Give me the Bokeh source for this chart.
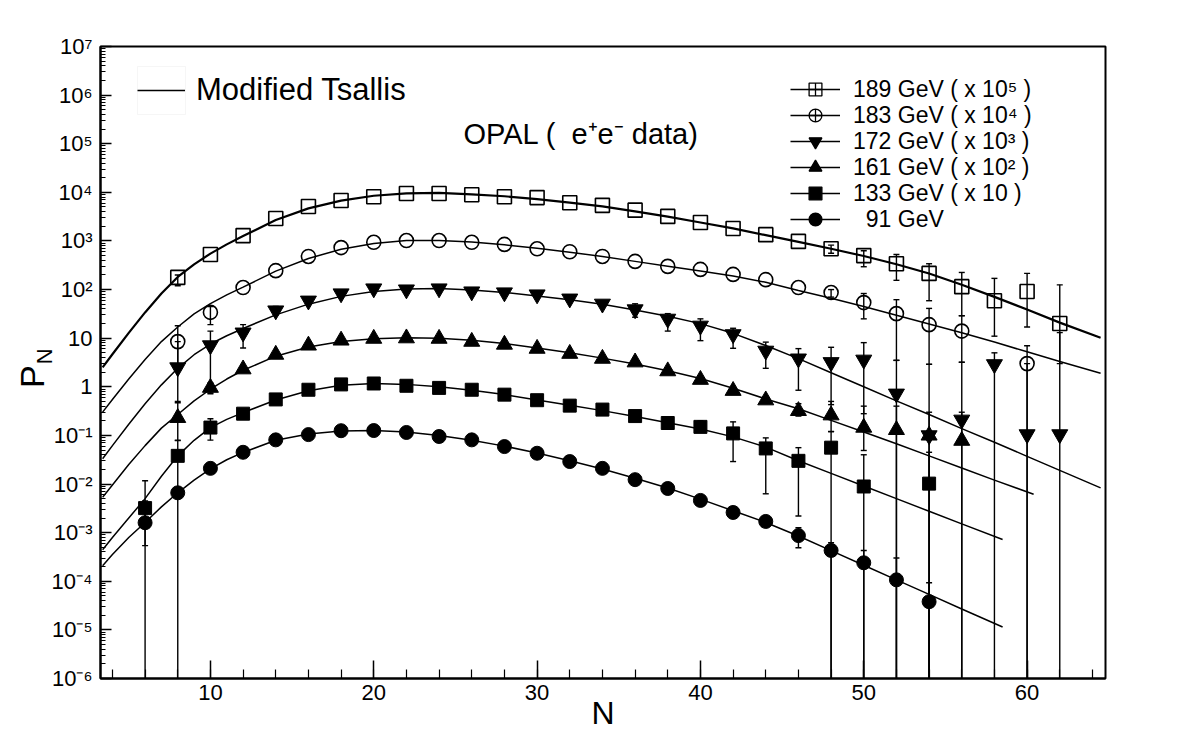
import numpy as np
from bokeh.plotting import figure
from bokeh.models import (Range1d, FixedTicker, CustomJSTickFormatter, Label,
                          Legend, LegendItem, LinearAxis, BoxAnnotation)
from bokeh.embed import file_html
from bokeh.resources import INLINE

FONT = "Liberation Sans"
BOTTOM = 1e-7  # error bar running off the bottom of the axis
NAN = float("nan")

# ---------------- data points (plotted values, already scaled) ----------------
N189 = list(range(8, 63, 2))
P189 = [178, 525, 1290, 2900, 5100, 6800, 8100, 9500, 9500, 8900, 8100, 7800, 6100, 5400,
        4300, 3200, 2400, 1800, 1350, 980, 690, 500, 340, 215, 115, 59, 91, 20]
E189_N = [8, 48, 50, 52, 54, 56, 58, 60, 62]
E189_lo = [120, 560, 295, 155, 59, 29, 11, 17, 3.0]
E189_hi = [200, 820, 630, 525, 340, 225, 170, 215, 125]

N183 = list(range(8, 57, 2)) + [60]
P183 = [8.5, 34, 110, 245, 480, 730, 940, 1020, 1020, 940, 850, 690, 600, 480, 380, 300,
        260, 205, 160, 110, 87, 54, 32, 19, 14, 3.0]
E183_N = [8, 10, 48, 50, 52, 54, 56, 60]
E183_lo = [2.5, 19, 70, 25, 3.5, 2.9, 3.2, BOTTOM]
E183_hi = [18, 45, 100, 83, 62, 41, 29, 7]

N172 = list(range(8, 63, 2))
P172 = [2.5, 7.1, 13, 37, 59, 83, 105, 100, 105, 91, 87, 79, 65, 51, 39, 25, 18, 12, 5.5,
        3.8, 3.2, 3.6, 0.72, 0.10, 0.21, 2.9, 0.105, 0.105]
E172_N = [8, 10, 12, 14, 36, 38, 40, 42, 44, 46, 48, 50, 52, 54, 56, 58, 60, 62]
E172_lo = [0.5, 0.72, 6.3, 30, 27, 14, 8.9, 6.2, 2.4, 0.85, 0.43, 0.28,
           BOTTOM, BOTTOM, BOTTOM, BOTTOM, BOTTOM, BOTTOM]
E172_hi = [8.5, 14, 19, 45, 51, 32, 25, 16, 8.3, 6.1, 6.5, 8.1, 3.5, 2.9, 3.2, 5.0, 3.0, 13]

N161 = list(range(8, 57, 2))
P161 = [0.23, 0.96, 2.3, 4.6, 7.1, 9.0, 9.8, 10.0, 9.8, 8.5, 7.4, 6.1, 4.8, 3.8, 3.2, 2.1,
        1.4, 0.83, 0.53, 0.32, 0.26, 0.145, 0.13, 0.10, 0.078]
E161_N = [8, 10, 46, 48, 50, 52, 54, 56]
E161_lo = [0.08, 0.75, 0.25, 0.12, 0.049, BOTTOM, BOTTOM, BOTTOM]
E161_hi = [0.47, 1.2, 0.45, 0.50, 0.40, 0.40, 0.30, 0.30]

N133 = list(range(6, 51, 2)) + [54]
P133 = [3.2e-3, 0.038, 0.145, 0.28, 0.55, 0.87, 1.12, 1.17, 1.05, 0.95, 0.87, 0.69, 0.53,
        0.41, 0.34, 0.25, 0.18, 0.15, 0.11, 0.054, 0.030, 0.056, 0.0089, 0.0102]
E133_N = [6, 8, 10, 38, 40, 42, 44, 46, 48, 50, 54]
E133_lo = [BOTTOM, BOTTOM, 0.08, 0.15, 0.12, 0.029, 0.0063, 0.0022, BOTTOM, BOTTOM, BOTTOM]
E133_hi = [0.0117, 0.078, 0.22, 0.21, 0.20, 0.19, 0.089, 0.056, 0.12, 0.04, 0.045]

N91 = list(range(6, 55, 2))
P91 = [1.6e-3, 6.6e-3, 0.021, 0.045, 0.081, 0.104, 0.125, 0.126, 0.115, 0.095, 0.081, 0.059,
       0.043, 0.029, 0.021, 0.0123, 0.0081, 0.0046, 0.0026, 0.0017, 8.7e-4, 4.3e-4, 2.4e-4,
       1.07e-4, 3.8e-5]
E91_N = [6, 8, 44, 46, 48, 50, 52, 54]
E91_lo = [5.4e-4, 5.6e-3, 1.5e-3, 4.9e-4, BOTTOM, BOTTOM, BOTTOM, BOTTOM]
E91_hi = [4.5e-3, 7.6e-3, 2.0e-3, 1.26e-3, 6.2e-4, 4.3e-4, 3.0e-4, 9.3e-5]

CN_A = [3.4, 4, 5, 6, 7, 8, 9, 10, 11, 12] + list(range(14, 63, 2)) + [64.5]
FIT189 = [0.40, 0.67, 1.11, 1.53, 1.92, 2.26, 2.52, 2.74, 2.93, 3.10, 3.43, 3.67, 3.83, 3.93,
          3.98, 3.99, 3.96, 3.92, 3.86, 3.79, 3.71, 3.61, 3.50, 3.38, 3.26, 3.12, 2.98, 2.84,
          2.69, 2.52, 2.33, 2.10, 1.85, 1.59, 1.32, 1.01]
FIT183 = [-0.52, -0.26, 0.16, 0.56, 0.93, 1.23, 1.50, 1.71, 1.89, 2.05, 2.38, 2.64, 2.83, 2.95,
          3.01, 3.01, 2.98, 2.92, 2.85, 2.77, 2.68, 2.58, 2.48, 2.38, 2.28, 2.15, 1.98, 1.82,
          1.65, 1.47, 1.29, 1.11, 0.92, 0.72, 0.52, 0.28]
FIT172 = [-1.48, -1.21, -0.77, -0.35, 0.04, 0.38, 0.66, 0.88, 1.05, 1.20, 1.48, 1.70, 1.86,
          1.96, 2.01, 2.02, 1.99, 1.94, 1.87, 1.79, 1.70, 1.58, 1.45, 1.30, 1.10, 0.85, 0.58,
          0.29, 0.00, -0.29, -0.57, -0.86, -1.14, -1.43, -1.72, -2.08]
CN_B = [3.4, 4, 5, 6, 7, 8, 9, 10, 11, 12] + list(range(14, 59, 2)) + [60.4]
FIT161 = [-2.27, -2.02, -1.60, -1.21, -0.85, -0.57, -0.29, -0.05, 0.16, 0.34, 0.63, 0.82, 0.93,
          0.99, 1.01, 1.00, 0.96, 0.89, 0.80, 0.70, 0.59, 0.47, 0.33, 0.17, -0.03, -0.25,
          -0.45, -0.69, -0.93, -1.17, -1.42, -1.67, -1.92, -2.21]
CN_C = [3.4, 4, 5, 6, 7, 8, 9, 10, 11, 12] + list(range(14, 57, 2)) + [58.5]
FIT133 = [-3.35, -3.10, -2.70, -2.30, -1.84, -1.42, -1.10, -0.84, -0.67, -0.53, -0.27, -0.08,
          0.03, 0.07, 0.05, 0.00, -0.07, -0.16, -0.27, -0.38, -0.49, -0.61, -0.74, -0.87,
          -1.03, -1.24, -1.52, -1.78, -2.04, -2.30, -2.56, -2.82, -3.14]
FIT91 = [-3.68, -3.45, -3.10, -2.79, -2.47, -2.18, -1.92, -1.69, -1.50, -1.35, -1.10, -0.97,
         -0.91, -0.90, -0.93, -1.00, -1.10, -1.22, -1.36, -1.52, -1.69, -1.88, -2.08, -2.31,
         -2.55, -2.79, -3.07, -3.37, -3.67, -3.97, -4.27, -4.57, -4.94]

LABELS = ["189 GeV ( x 10\u2075 )", "183 GeV ( x 10\u2074 )", "172 GeV ( x 10\u00b3 )",
          "161 GeV ( x 10\u00b2 )", "133 GeV ( x 10 )", "\u00a0\u00a091 GeV"]

series = [
    dict(N=N189, P=P189, eN=E189_N, lo=E189_lo, hi=E189_hi, cN=CN_A, fit=FIT189,
         marker="square", filled=False, size=14, lw_fit=2.2, lmarker="square_cross"),
    dict(N=N183, P=P183, eN=E183_N, lo=E183_lo, hi=E183_hi, cN=CN_A, fit=FIT183,
         marker="circle", filled=False, size=14, lw_fit=1.5, lmarker="circle_cross"),
    dict(N=N172, P=P172, eN=E172_N, lo=E172_lo, hi=E172_hi, cN=CN_A, fit=FIT172,
         marker="inverted_triangle", filled=True, size=16, lw_fit=1.5, lmarker="inverted_triangle"),
    dict(N=N161, P=P161, eN=E161_N, lo=E161_lo, hi=E161_hi, cN=CN_B, fit=FIT161,
         marker="triangle", filled=True, size=16, lw_fit=1.5, lmarker="triangle"),
    dict(N=N133, P=P133, eN=E133_N, lo=E133_lo, hi=E133_hi, cN=CN_C, fit=FIT133,
         marker="square", filled=True, size=13, lw_fit=1.5, lmarker="square"),
    dict(N=N91, P=P91, eN=E91_N, lo=E91_lo, hi=E91_hi, cN=CN_C, fit=FIT91,
         marker="circle", filled=True, size=14, lw_fit=1.5, lmarker="circle"),
]

FRAME_H = 632               # frame height in px (46..678)
FRAME_TOP = 46
LEGEND_ROWS_Y = [89, 115, 141, 167, 193, 219]   # legend row centres, px from top of canvas
ROW_H = 32

p = figure(width=1182, height=738, x_range=Range1d(3.27, 64.8), y_range=Range1d(1e-6, 1e7),
           y_axis_type="log", output_backend="svg", toolbar_location=None,
           min_border_left=100, min_border_right=77, min_border_top=46, min_border_bottom=60)
p.background_fill_color = "white"
p.border_fill_color = "white"
p.xgrid.visible = False
p.ygrid.visible = False
p.outline_line_color = "black"
p.outline_line_width = 2

# axes
p.xaxis.ticker = FixedTicker(ticks=[10, 20, 30, 40, 50, 60], minor_ticks=list(range(4, 65, 2)))
p.yaxis.ticker = FixedTicker(ticks=[10.0 ** e for e in range(-6, 8)],
                             minor_ticks=[k * 10.0 ** e for e in range(-6, 7) for k in range(2, 10)])
p.yaxis.formatter = CustomJSTickFormatter(code="""
const e = Math.round(Math.log10(tick));
if (e === 0) return "1";
if (e === 1) return "10";
const m = {"-":"\u207b","0":"\u2070","1":"\u00b9","2":"\u00b2","3":"\u00b3","4":"\u2074",
           "5":"\u2075","6":"\u2076","7":"\u2077","8":"\u2078","9":"\u2079"};
let s = "";
for (const c of String(e)) s += m[c];
return "10" + s;
""")
for ax in (p.xaxis, p.yaxis):
    ax.axis_line_width = 2
    ax.axis_line_color = "black"
    ax.major_tick_out = 0
    ax.minor_tick_out = 0
    ax.major_tick_line_width = 1.5
    ax.minor_tick_line_width = 1.2
    ax.major_tick_line_color = "black"
    ax.minor_tick_line_color = "black"
    ax.major_label_text_font = FONT
    ax.major_label_text_font_size = "22px"
    ax.major_label_text_color = "black"
p.xaxis.major_tick_in = 18
p.xaxis.minor_tick_in = 9
p.xaxis.major_label_standoff = 6
p.yaxis.major_tick_in = 11
p.yaxis.minor_tick_in = 5
p.yaxis.major_label_standoff = 8

# x axis title
p.xaxis.axis_label = "N"
p.xaxis.axis_label_text_font = FONT
p.xaxis.axis_label_text_font_size = "32px"
p.xaxis.axis_label_text_font_style = "normal"
p.xaxis.axis_label_text_color = "black"
p.xaxis.axis_label_standoff = -8

# y axis title "P" with subscript "N": two label-only axes stacked on the left
def title_axis(text, size, standoff):
    return LinearAxis(ticker=FixedTicker(ticks=[]), axis_label=text, axis_line_alpha=0,
                      major_tick_in=0, major_tick_out=0, minor_tick_in=0, minor_tick_out=0,
                      major_label_standoff=0, axis_label_standoff=standoff,
                      axis_label_text_font=FONT, axis_label_text_font_size=size,
                      axis_label_text_font_style="normal", axis_label_text_color="black")

p.add_layout(title_axis("\u00a0\u00a0N", "22px", -8), "left")
p.add_layout(title_axis("P\u00a0\u00a0\u00a0", "34px", -22), "left")

for s, lab, ry in zip(series, LABELS, LEGEND_ROWS_Y):
    clog = np.asarray(s["fit"])
    p.line(s["cN"], np.power(10.0, clog), line_color="black", line_width=s["lw_fit"])
    p.segment(x0=s["eN"], y0=s["lo"], x1=s["eN"], y1=s["hi"], line_color="black", line_width=1.4)
    p.scatter(s["eN"], s["hi"], marker="dash", size=6, line_color="black", line_width=1.4)
    p.scatter(s["eN"], s["lo"], marker="dash", size=6, line_color="black", line_width=1.4)
    fill = "black" if s["filled"] else None
    p.scatter(s["N"], s["P"], marker=s["marker"], size=s["size"], line_color="black",
              line_width=1.6 if not s["filled"] else 1.0,
              fill_color=fill, fill_alpha=1.0 if s["filled"] else 0.0)
    # legend sample (line + marker); renderers hold a single NaN point (never drawn)
    rl = p.line([NAN], [NAN], line_color="black", line_width=1.5)
    rm = p.scatter([NAN], [NAN], marker=s["lmarker"], line_color="black", line_width=1.3,
                   fill_color=fill, fill_alpha=1.0 if s["filled"] else 0.0)
    vy = (FRAME_TOP + FRAME_H) - (ry + ROW_H / 2)
    p.add_layout(Legend(items=[LegendItem(label=lab, renderers=[rl, rm])],
                        location=(690, vy), padding=0, margin=0,
                        glyph_width=50, glyph_height=ROW_H, label_height=ROW_H, spacing=0,
                        label_standoff=13, label_text_font=FONT, label_text_font_size="23px",
                        label_text_color="black", border_line_alpha=0, background_fill_alpha=0))

# faint frame round the "Modified Tsallis" line sample
p.add_layout(BoxAnnotation(left=37, right=85, bottom=564, top=612, left_units="screen",
                           right_units="screen", bottom_units="screen", top_units="screen",
                           fill_alpha=0, line_color="#e2e2e2", line_width=1))
rt = p.line([NAN], [NAN], line_color="black", line_width=1.5)
p.add_layout(Legend(items=[LegendItem(label="Modified Tsallis", renderers=[rt])],
                    location=(37, 568), padding=0, margin=0, glyph_width=48, glyph_height=40,
                    label_height=40, label_standoff=11, label_text_font=FONT,
                    label_text_font_size="31px", label_text_color="black",
                    border_line_alpha=0, background_fill_alpha=0))

p.add_layout(Label(x=363, y=545, x_units="screen", y_units="screen",
                   text="OPAL (\u00a0\u00a0e\u207ae\u207b data)", text_font=FONT,
                   text_font_size="29px", text_baseline="middle", text_color="black"))

open("out.html", "w").write(file_html(p, INLINE))
